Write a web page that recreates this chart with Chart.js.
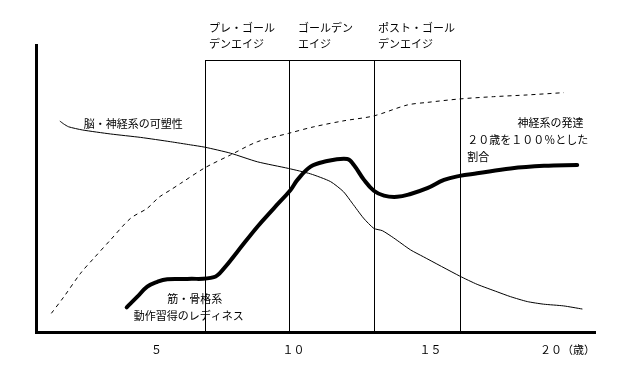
<!DOCTYPE html>
<html>
<head>
<meta charset="utf-8">
<script src="https://cdn.jsdelivr.net/npm/chart.js@4/dist/chart.umd.min.js"></script>
<style>
  html, body { margin: 0; padding: 0; background: #fff; }
</style>
</head>
<body>
<canvas id="chart" width="630" height="388"></canvas>
<script>
// 横軸（年齢）
const tickAges = [5, 10, 15, 20];
const tickLabels = ['５', '１０', '１５', '２０（歳）'];

// 脳・神経系の可塑性（細線）
const plasticityAges = [1.47, 1.61, 1.79, 2.29, 3.32, 4.42, 5.51, 6.24, 6.76, 7.70, 8.68, 9.81, 10.62, 11.35, 11.82, 12.14, 12.55, 12.93, 13.24, 13.65, 14.27, 14.74, 16.06, 16.70, 17.43, 17.92, 18.53, 19.12, 19.85, 20.54];
const plasticityValues = [73.5, 72.5, 71.5, 70.4, 69.0, 67.8, 66.3, 65.2, 64.4, 62.3, 59.3, 57.0, 55.1, 52.4, 48.9, 44.9, 39.7, 36.1, 35.3, 32.8, 28.6, 26.2, 19.5, 16.6, 14.0, 12.3, 10.6, 9.7, 9.1, 8.0];

// 神経系の発達（点線）
const neuralAges = [1.16, 1.62, 2.23, 2.71, 3.32, 4.05, 4.66, 5.08, 5.51, 5.88, 6.76, 7.70, 8.68, 9.81, 10.74, 11.84, 12.93, 14.15, 14.88, 16.06, 17.30, 18.53, 19.86];
const neuralValues = [6.5, 12.3, 20.5, 25.7, 32.1, 39.6, 43.1, 46.9, 49.5, 51.8, 57.2, 61.7, 66.3, 69.2, 71.5, 73.6, 75.3, 79.1, 80.0, 81.2, 82.0, 82.6, 83.4];

// 筋・骨格系 動作習得のレディネス（太線）
const muscleAges = [3.91, 4.30, 4.66, 5.03, 5.39, 6.12, 7.09, 7.46, 7.95, 8.68, 9.28, 9.89, 10.14, 10.62, 11.11, 11.96, 12.20, 12.57, 12.93, 13.30, 13.78, 14.27, 14.88, 15.49, 16.06, 16.70, 17.92, 19.14, 20.35];
const muscleValues = [8.6, 12.3, 15.8, 17.5, 18.4, 18.5, 19.1, 22.2, 28.0, 36.7, 43.1, 49.5, 53.0, 57.6, 59.3, 60.3, 58.2, 53.0, 49.2, 47.5, 47.1, 48.1, 50.1, 53.0, 54.4, 55.3, 57.0, 57.9, 58.2];

// 区切り（プレ・ゴールデンエイジ／ゴールデンエイジ／ポスト・ゴールデンエイジ）
const stageBounds = [6.75, 9.82, 12.92, 16.06];
const stageTop = 94.8;

// 文字ラベル [年齢, 値, テキスト, 揃え]
const notes = [
    [6.91, 105.9, 'プレ・ゴール', 'left'],
    [6.91, 100.3, 'デンエイジ', 'left'],
    [10.16, 105.9, 'ゴールデン', 'left'],
    [10.16, 100.3, 'エイジ', 'left'],
    [13.08, 105.9, 'ポスト・ゴール', 'left'],
    [13.08, 100.3, 'デンエイジ', 'left'],
    [2.34, 72.7, '脳・神経系の可塑性', 'left'],
    [20.58, 72.9, '神経系の発達', 'right'],
    [16.34, 66.9, '２０歳を１００％とした', 'left'],
    [16.34, 61.2, '割合', 'left'],
    [5.39, 11.4, '筋・骨格系', 'left'],
    [4.17, 5.6, '動作習得のレディネス', 'left'],
];

const FONT = '"Noto Sans CJK JP", "Noto Sans", sans-serif';

function zip(xs, ys) {
    return xs.map((x, i) => ({ x: x, y: ys[i] }));
}

// 区切り線と文字を描くプラグイン
const overlayPlugin = {
    id: 'overlay',
    afterDatasetsDraw(chart) {
        const ctx = chart.ctx;
        const xs = chart.scales.x;
        const ys = chart.scales.y;
        const y0 = ys.getPixelForValue(0);
        const yTop = Math.round(ys.getPixelForValue(stageTop)) + 0.5;

        ctx.save();
        ctx.strokeStyle = '#000';
        ctx.lineWidth = 1;
        ctx.beginPath();
        stageBounds.forEach((b) => {
            const px = Math.round(xs.getPixelForValue(b)) + 0.5;
            ctx.moveTo(px, y0);
            ctx.lineTo(px, yTop);
        });
        ctx.moveTo(Math.round(xs.getPixelForValue(stageBounds[0])), yTop);
        ctx.lineTo(Math.round(xs.getPixelForValue(stageBounds[stageBounds.length - 1])) + 1, yTop);
        ctx.stroke();

        ctx.fillStyle = '#000';
        ctx.font = '11px ' + FONT;
        ctx.textBaseline = 'middle';
        notes.forEach(([age, val, text, align]) => {
            ctx.textAlign = align;
            ctx.fillText(text, xs.getPixelForValue(age), ys.getPixelForValue(val));
        });
        ctx.restore();
    }
};

const ctx = document.getElementById('chart').getContext('2d');

new Chart(ctx, {
    type: 'line',
    data: {
        datasets: [
            {
                label: '脳・神経系の可塑性',
                data: zip(plasticityAges, plasticityValues),
                borderColor: '#000',
                borderWidth: 1,
                pointRadius: 0,
                tension: 0.2,
            },
            {
                label: '神経系の発達',
                data: zip(neuralAges, neuralValues),
                borderColor: '#000',
                borderWidth: 1,
                borderDash: [4, 4],
                pointRadius: 0,
                tension: 0.3,
            },
            {
                label: '筋・骨格系 動作習得のレディネス',
                data: zip(muscleAges, muscleValues),
                borderColor: '#000',
                borderWidth: 4,
                pointRadius: 0,
                tension: 0.4,
                borderCapStyle: 'round',
                borderJoinStyle: 'round',
            },
        ],
    },
    options: {
        responsive: false,
        animation: false,
        layout: { padding: { left: 36, right: 35, top: 45, bottom: 0 } },
        plugins: {
            legend: { display: false },
            tooltip: { enabled: false },
        },
        scales: {
            x: {
                type: 'linear',
                min: 0.6,
                max: 21.0,
                afterBuildTicks: (scale) => {
                    scale.ticks = tickAges.map(v => ({ value: v }));
                },
                afterFit: (scale) => { scale.height = 56; },
                grid: { display: false, drawTicks: false },
                border: { display: true, color: '#000', width: 3 },
                ticks: {
                    autoSkip: false,
                    maxRotation: 0,
                    padding: 11,
                    color: '#000',
                    font: { family: FONT, size: 11 },
                    callback: (value, index) => tickLabels[index],
                },
            },
            y: {
                type: 'linear',
                min: 0,
                max: 100,
                afterFit: (scale) => { scale.width = 0; },
                grid: { display: false, drawTicks: false },
                border: { display: true, color: '#000', width: 3 },
                ticks: { display: false },
            },
        },
    },
    plugins: [overlayPlugin],
});
</script>
</body>
</html>
